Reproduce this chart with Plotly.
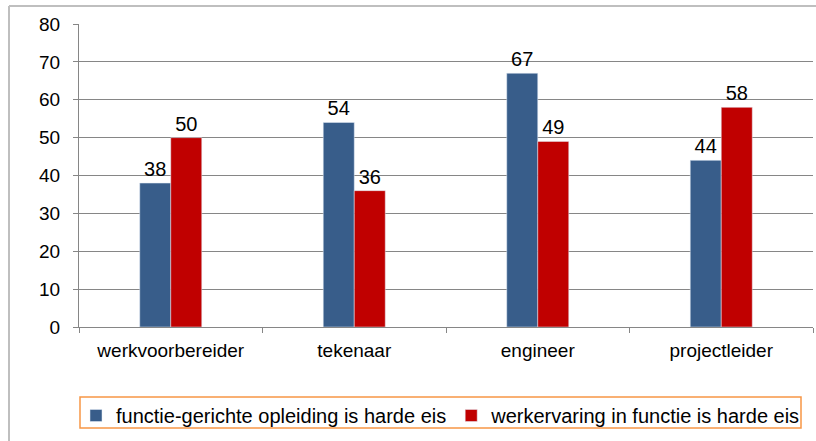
import plotly.graph_objects as go

categories = ["werkvoorbereider", "tekenaar", "engineer", "projectleider"]
series_names = ["functie-gerichte opleiding is harde eis", "werkervaring in functie is harde eis"]
opleiding = [38, 54, 67, 44]
werkervaring = [50, 36, 49, 58]
y_ticks = [0, 10, 20, 30, 40, 50, 60, 70, 80]

W, H = 816, 441
L, R, T, B = 79, 3, 24, 114
pw, ph = W - L - R, H - T - B

def px(x):
    return (x - L) / pw

def py(y):
    return (H - B - y) / ph

font = "Liberation Sans, Arial, sans-serif"

fig = go.Figure()
fig.add_bar(x=categories, y=opleiding, name=series_names[0], marker_color="#385D8A",
            text=opleiding, textposition="outside", cliponaxis=False,
            textfont=dict(size=20, color="black", family=font))
fig.add_bar(x=categories, y=werkervaring, name=series_names[1], marker_color="#C00000",
            text=werkervaring, textposition="outside", cliponaxis=False,
            textfont=dict(size=20, color="black", family=font))

fig.update_layout(
    width=W, height=H,
    margin=dict(l=L, r=R, t=T, b=B, autoexpand=False),
    paper_bgcolor="white", plot_bgcolor="white",
    barmode="group", bargap=0.662, bargroupgap=0,
    font=dict(family=font, size=19, color="black"),
    showlegend=True,
    legend=dict(orientation="h", x=px(441), xanchor="center", y=py(396), yanchor="top",
                font=dict(size=20, color="black", family=font),
                bgcolor="rgba(0,0,0,0)", itemwidth=30, traceorder="normal"),
)
fig.update_yaxes(range=[0, 80], tickvals=y_ticks, showgrid=True, gridcolor="#868686", gridwidth=1,
                 showline=True, linecolor="#868686", linewidth=1, ticks="outside", ticklen=5,
                 tickcolor="#868686", tickfont=dict(size=19, family=font, color="black"),
                 ticklabelstandoff=9, zeroline=False)
fig.update_xaxes(showline=True, linecolor="#868686", linewidth=1, ticks="outside", ticklen=5,
                 tickcolor="#868686", tickson="boundaries", showgrid=False,
                 tickfont=dict(size=19, family=font, color="black"), ticklabelstandoff=6)

# outer chart border: left and top edges (right/bottom edges fall outside the picture)
fig.add_shape(type="line", xref="paper", yref="paper",
              x0=px(9), x1=px(9), y0=py(441), y1=py(6),
              line=dict(color="#BFBFBF", width=2), layer="below")
fig.add_shape(type="line", xref="paper", yref="paper",
              x0=px(9), x1=px(816), y0=py(6), y1=py(6),
              line=dict(color="#BFBFBF", width=2), layer="below")
# legend border
fig.add_shape(type="rect", xref="paper", yref="paper",
              x0=px(80), x1=px(801), y0=py(428), y1=py(397),
              line=dict(color="#F79646", width=1.5), fillcolor="rgba(0,0,0,0)")

fig.write_html("out.html", config={"displayModeBar": False},
               post_script="document.body.style.margin='0';document.body.style.overflow='hidden';")
